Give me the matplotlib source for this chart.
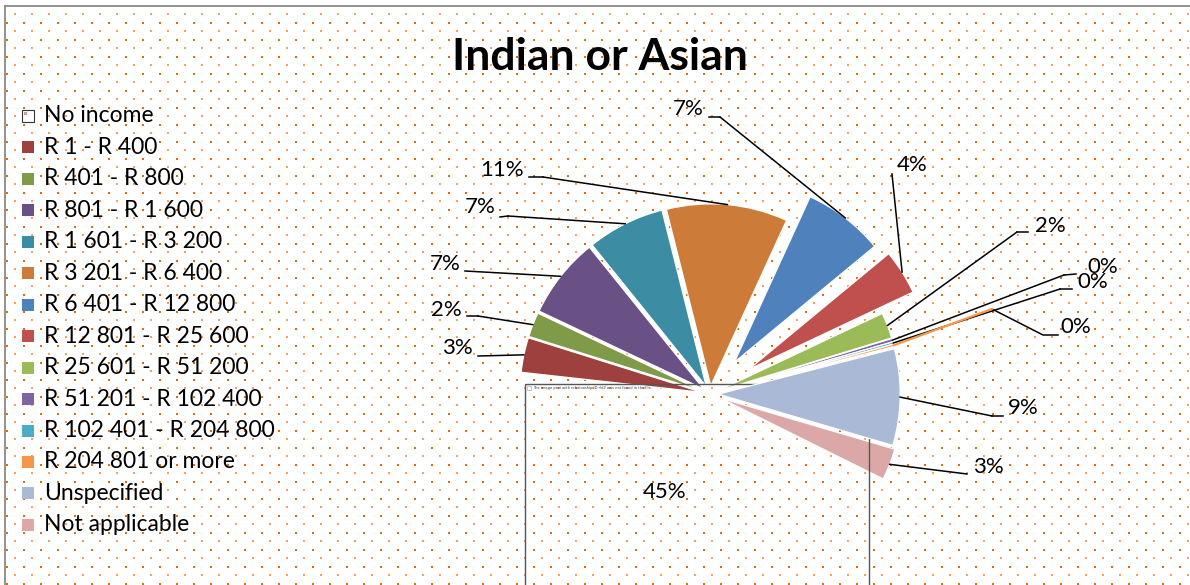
import numpy as np
import matplotlib.pyplot as plt
from matplotlib.patches import Rectangle

categories = ['No income', 'R 1 - R 400', 'R 401 - R 800', 'R 801 - R 1 600',
              'R 1 601 - R 3 200', 'R 3 201 - R 6 400', 'R 6 401 - R 12 800',
              'R 12 801 - R 25 600', 'R 25 601 - R 51 200', 'R 51 201 - R 102 400',
              'R 102 401 - R 204 800', 'R 204 801 or more', 'Unspecified', 'Not applicable']
shares = [44.6, 3.1, 2.2, 7.2, 6.9, 10.8, 7.2, 4.0, 2.3, 0.3, 0.2, 0.2, 8.6, 2.8]
colors = ['none', '#9E413E', '#7F9A48', '#695185', '#3C8DA3', '#CC7B38', '#4F81BD',
          '#C0504D', '#9BBB59', '#8064A2', '#4BACC6', '#F79646', '#A9B9D6', '#DBA8A7']
explode = [0, .045, .045, .045, .045, .045, .22, .25, .045, .045, .045, .045, .045, .06]

# label layout in screen pixels (y down): text centre and leader points from the text side
label_xy = [(665, 492), (457, 348), (446, 310), (445, 264), (480, 207), (502, 170),
            (688, 109), (912, 165), (1050, 226), (1103, 267), (1093, 282), (1076, 327),
            (1023, 408), (988, 467)]
leaders = [[], [(478, 356)], [(467, 316), (478, 316)], [(465, 271)],
           [(500, 217), (508, 216)], [(529, 177), (543, 177)], [(709, 117), (720, 117)],
           [(892, 174)], [(1028, 232), (1017, 232)], [(1076, 274), (1064, 275)],
           [(1072, 289), (1060, 289)], [(1058, 335), (1043, 335), (992, 309)],
           [(1003, 416), (992, 416)], [(967, 474)]]

font = ['Lato', 'DejaVu Sans']
cx, cy, r = 710, 394, 182

fig = plt.figure(figsize=(11.9, 5.85), dpi=100)
ax = fig.add_axes([0, 0, 1, 1])

# y axis runs downwards, so counterclock=True turns clockwise on screen
# pie's explode is in data units, so scale the fractions by the radius
wedges, _ = ax.pie(shares, colors=colors, explode=[e * r for e in explode],
                   startangle=26.4, counterclock=True, center=(cx, cy), radius=r,
                   wedgeprops=dict(linewidth=0.9, edgecolor='white'))
ax.set_xlim(0, 1190)
ax.set_ylim(585, 0)
ax.set_aspect('auto')
ax.axis('off')

for i, w in enumerate(wedges):
    w.set_zorder(4 if categories[i] == 'Unspecified' else 2)
    if colors[i] == 'none':
        w.set_edgecolor('none')

# dotted background
xs = np.arange(15, 1190, 17)
ys = np.arange(14.3, 585, 17)
gx, gy = np.meshgrid(xs, ys)
ax.scatter(gx.ravel(), gy.ravel(), s=2.8, marker='s', color='#F2A064', linewidths=0, zorder=0)
xs = np.arange(6.5, 1190, 17)
ys = np.arange(22.8, 585, 17)
gx, gy = np.meshgrid(xs, ys)
ax.scatter(gx.ravel(), gy.ravel(), s=2.4, marker='s', color='#E36C0A', linewidths=0, zorder=0)

ax.plot([5, 5], [585, 5.5], color='#8a8a8a', lw=1.3, zorder=1)
ax.plot([5, 1190], [5.5, 5.5], color='#8a8a8a', lw=1.3, zorder=1)

# "No income" slice: picture fill that failed to load, drawn as an empty frame
w0 = wedges[0]
x_left = cx + r * np.cos(np.radians(180)) - 3
x_right = cx + r * np.cos(np.radians(w0.theta1)) - 4
y_top = cy - 0.055 * r
ax.add_patch(Rectangle((x_left, y_top), x_right - x_left, 1.4 * r, facecolor='none',
                       edgecolor='#555555', lw=1.0, zorder=3))
ax.add_patch(Rectangle((x_left + 2, y_top + 2), 4, 4, facecolor='white',
                       edgecolor='#999999', lw=0.4, zorder=3))
ax.text(x_left + 8, y_top + 4, 'The image part with relationship ID rId2 was not found in the file.',
        fontsize=2.6, va='center', ha='left', color='#333333', zorder=3)

# leader lines and percentage labels
for i, w in enumerate(wedges):
    mid = np.radians((w.theta1 + w.theta2) / 2)
    ax_ = w.center[0] + w.r * np.cos(mid)
    ay_ = w.center[1] + w.r * np.sin(mid)
    pts = leaders[i]
    if pts:
        px = [p[0] for p in pts] + [ax_]
        py = [p[1] for p in pts] + [ay_]
        ax.plot(px[:-1], py[:-1], color='black', lw=1.1, zorder=5)
        seg_col = colors[i] if categories[i] == 'R 204 801 or more' else 'black'
        ax.plot(px[-2:], py[-2:], color=seg_col, lw=1.6 if seg_col != 'black' else 1.1, zorder=5)
    ax.text(label_xy[i][0], label_xy[i][1], f'{round(shares[i])}%', fontsize=16,
            family=font, ha='center', va='center', zorder=6)

# legend
for i, name in enumerate(categories):
    y = 116 + i * 31.45
    if colors[i] == 'none':
        ax.add_patch(Rectangle((22, y - 6), 12, 12, facecolor='white', edgecolor='#333333',
                               lw=0.8, zorder=6))
        ax.add_patch(Rectangle((24, y - 4), 3, 3, facecolor='#dd9999', lw=0, zorder=6))
    else:
        ax.add_patch(Rectangle((22, y - 6), 12, 12, facecolor=colors[i], lw=0, zorder=6))
    ax.text(44, y, name, fontsize=16.5, family=font, ha='left', va='center', zorder=6)

ax.text(600, 57, 'Indian or Asian', fontsize=32, fontweight='bold', family=font,
        ha='center', va='center', zorder=6)

fig.savefig('out.png', dpi=100)
